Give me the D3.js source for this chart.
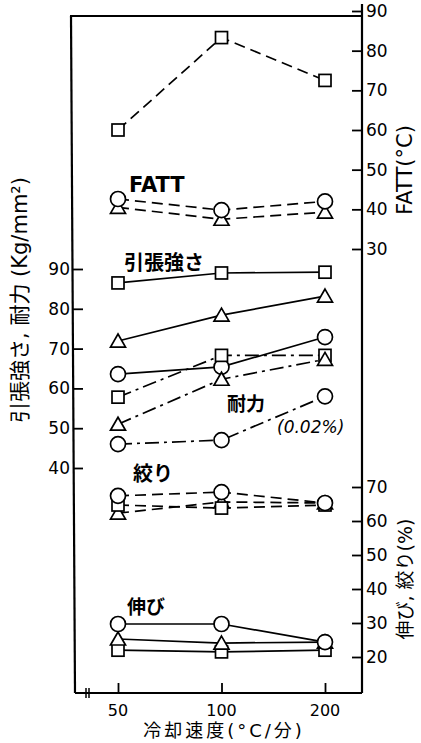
<!DOCTYPE html>
<html><head><meta charset="utf-8">
<script src="https://cdn.jsdelivr.net/npm/d3@7"></script>
<style>
body{margin:0;background:#fff;}
svg text{font-family:"DejaVu Sans","Noto Sans CJK JP",sans-serif;fill:#000;}
</style></head>
<body><svg id="c" width="421" height="743"></svg>
<script>
const rates = [50, 100, 200];
const xTicks = [50, 100, 200];
const fattTicks = [30, 40, 50, 60, 70, 80, 90];
const tsTicks = [40, 50, 60, 70, 80, 90];
const elTicks = [20, 30, 40, 50, 60, 70];

// FATT (°C) – right upper axis, dashed
const fattSquare = [60, 83.3, 72.5];
const fattCircle = [42.6, 39.8, 42];
const fattTriangle = [40.5, 37.5, 39.3];
// 引張強さ (Kg/mm²) – left axis, solid
const tsSquare = [86.5, 89, 89.2];
const tsTriangle = [71.9, 78.4, 83.2];
const tsCircle = [63.6, 65.4, 72.9];
// 耐力 (0.02%) – left axis, dash-dot
const ysSquare = [57.8, 68.3, 68.3];
const ysTriangle = [51, 62.3, 67.3];
const ysCircle = [46, 47, 58];
// 絞り (%) – right lower axis, dashed
const raCircle = [67.4, 68.5, 65.3];
const raSquare = [64.7, 63.8, 64.7];
const raTriangle = [62.3, 65.6, 65.3];
// 伸び (%) – right lower axis, solid
const elCircle = [29.7, 29.7, 24.4];
const elTriangle = [25.3, 24.1, 24.4];
const elSquare = [22, 21.5, 22];

const svg = d3.select("#c");
const L = 73, R = 362, T = 16, B = 693;

const x = d3.scaleLog().domain([50, 200]).range([118, 325]);
const yF = d3.scaleLinear().domain([30, 90]).range([249, 11]);
const yT = d3.scaleLinear().domain([40, 90]).range([468, 269]);
const yE = d3.scaleLinear().domain([20, 70]).range([657, 487]);

// frame
const frame = svg.append("g").attr("stroke", "#000").attr("stroke-width", 2.2).attr("fill", "none");
frame.append("line").attr("x1", L - 3).attr("y1", T).attr("x2", R).attr("y2", T);
frame.append("line").attr("x1", L - 2).attr("y1", T).attr("x2", L + 2).attr("y2", B);
frame.append("line").attr("x1", L + 2).attr("y1", B).attr("x2", R).attr("y2", B);
frame.append("line").attr("x1", R).attr("y1", 4).attr("x2", R).attr("y2", B);
// small break mark on bottom axis
frame.append("line").attr("x1", 86).attr("y1", B - 5).attr("x2", 86).attr("y2", B + 5).attr("stroke-width", 1.5);
frame.append("line").attr("x1", 89).attr("y1", B - 5).attr("x2", 89).attr("y2", B + 5).attr("stroke-width", 1.5);

// axes
const ax = d3.axisTop(x).tickValues(xTicks).tickSize(10).tickFormat("");
svg.append("g").attr("transform", `translate(0,${B})`).call(ax)
  .call(g => { g.select(".domain").remove(); g.selectAll("line").attr("stroke-width", 1.8); });
svg.append("g").selectAll("text").data(xTicks).join("text")
  .attr("x", d => x(d)).attr("y", 716).attr("text-anchor", "middle")
  .attr("font-size", 16).text(d => d);

const axL = d3.axisRight(yT).tickValues(tsTicks).tickSize(10).tickFormat("");
svg.append("g").attr("transform", `translate(${L},0)`).call(axL)
  .call(g => { g.select(".domain").remove(); g.selectAll("line").attr("stroke-width", 1.8); });
svg.append("g").selectAll("text").data(tsTicks).join("text")
  .attr("x", L - 3).attr("y", d => yT(d) + 6).attr("text-anchor", "end")
  .attr("font-size", 17).text(d => d);

function rightAxis(scale, ticks) {
  const a = d3.axisLeft(scale).tickValues(ticks).tickSize(10).tickFormat("");
  svg.append("g").attr("transform", `translate(${R},0)`).call(a)
    .call(g => { g.select(".domain").remove(); g.selectAll("line").attr("stroke-width", 1.8); });
  svg.append("g").selectAll("text").data(ticks).join("text")
    .attr("x", R + 4).attr("y", d => scale(d) + 6).attr("text-anchor", "start")
    .attr("font-size", 17).text(d => d);
}
rightAxis(yF, fattTicks);
rightAxis(yE, elTicks);

// axis titles
svg.append("text").attr("transform", "translate(27,300) rotate(-90)").attr("text-anchor", "middle")
  .attr("font-size", 21).text("引張強さ, 耐力 (Kg/mm²)");
svg.append("text").attr("transform", "translate(412,170) rotate(-90)").attr("text-anchor", "middle")
  .attr("font-size", 21).text("FATT(°C)");
svg.append("text").attr("transform", "translate(412,579) rotate(-90)").attr("text-anchor", "middle")
  .attr("font-size", 19).text("伸び, 絞り(%)");
svg.append("text").attr("x", 224).attr("y", 737).attr("text-anchor", "middle")
  .attr("font-size", 18).attr("letter-spacing", 3).text("冷却速度(°C/分)");

// series labels
const lab = (t, xx, yy, sz, extra) => {
  const e = svg.append("text").attr("x", xx).attr("y", yy).attr("font-size", sz).attr("font-weight", "bold").text(t);
  if (extra) e.attr("font-style", "italic").attr("font-weight", "normal");
};
lab("FATT", 129, 192, 21);
lab("引張強さ", 124, 270, 20);
lab("耐力", 227, 411, 19);
lab("(0.02%)", 277, 433, 17, true);
lab("絞り", 133, 481, 20);
lab("伸び", 127, 614, 19);

// series
function series(vals, scale, dash, shape) {
  const pts = vals.map((v, i) => [x(rates[i]), scale(v)]);
  svg.append("path").attr("d", d3.line()(pts)).attr("fill", "none").attr("stroke", "#000")
    .attr("stroke-width", 1.7).attr("stroke-dasharray", dash);
  const g = svg.append("g").attr("fill", "#fff").attr("stroke", "#000").attr("stroke-width", 1.7);
  pts.forEach(([px, py]) => {
    if (shape === "circle") g.append("circle").attr("cx", px).attr("cy", py).attr("r", 7.5);
    else if (shape === "square") g.append("rect").attr("x", px - 6).attr("y", py - 6).attr("width", 12).attr("height", 12);
    else g.append("path").attr("d", `M${px},${py - 7}L${px + 7.5},${py + 6}L${px - 7.5},${py + 6}Z`);
  });
}
const dashed = "11,6", dashdot = "14,5,3,5", solid = null;
series(fattSquare, yF, dashed, "square");
series(fattTriangle, yF, dashed, "triangle");
series(fattCircle, yF, dashed, "circle");
series(tsSquare, yT, solid, "square");
series(tsTriangle, yT, solid, "triangle");
series(tsCircle, yT, solid, "circle");
series(ysSquare, yT, dashdot, "square");
series(ysTriangle, yT, dashdot, "triangle");
series(ysCircle, yT, dashdot, "circle");
series(raTriangle, yE, dashed, "triangle");
series(raSquare, yE, dashed, "square");
series(raCircle, yE, dashed, "circle");
series(elSquare, yE, solid, "square");
series(elTriangle, yE, solid, "triangle");
series(elCircle, yE, solid, "circle");
</script></body></html>
